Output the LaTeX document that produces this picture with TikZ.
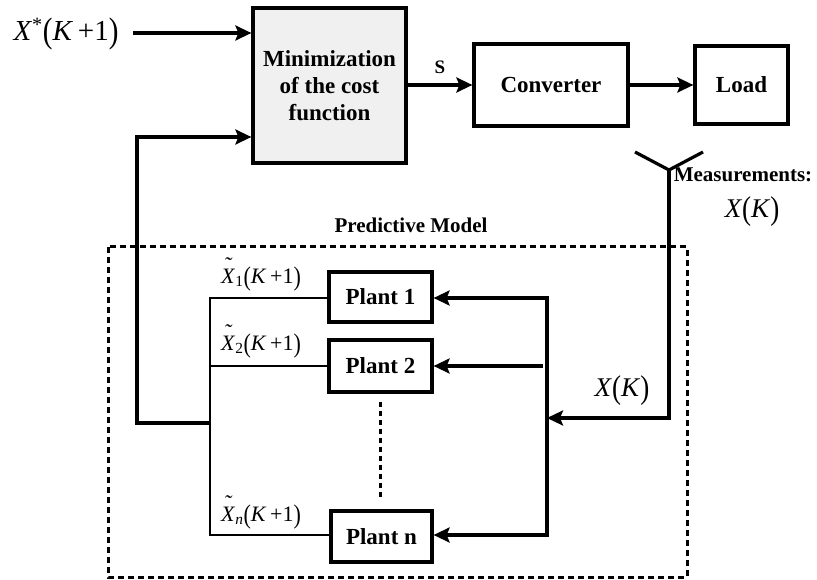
\documentclass[tikz,border=0pt]{standalone}
\usepackage{fontspec}
\setmainfont{Liberation Serif}
\usetikzlibrary{arrows.meta}
\newcommand\bigpar[1]{\raisebox{-0.08em}{\scalebox{1}[1.22]{#1}}}
\newcommand\tildeX{\ooalign{\textit{X}\cr\hidewidth\raisebox{0.5em}{\textit{\char"02DC}}\hidewidth\cr}}
\begin{document}
\begin{tikzpicture}[x=1pt,y=-1pt,
  box/.style={draw,line width=3.2pt,inner sep=0pt,font=\bfseries\fontsize{23}{27}\selectfont,align=center},
  arr/.style={line width=3.2pt,-{Stealth[length=16pt,width=15pt,inset=3pt]}},
  ln/.style={line width=3.2pt},
  thinln/.style={line width=2.8pt},
  lbl/.style={inner sep=0pt,font=\fontsize{21}{25}\selectfont\bfseries},
  mth/.style={inner sep=0pt,font=\fontsize{27}{31}\selectfont},
  smth/.style={inner sep=0pt,font=\fontsize{22}{26}\selectfont},
  dashedbox/.style={line width=3pt,dash pattern=on 6pt off 4pt}]
\useasboundingbox (0,0) rectangle (817,580);

% top row
\node[box,fill=gray!12,minimum width=153pt,minimum height=155pt] (min) at (329.5,85.5) {Minimization\\of the cost\\function};
\node[box,minimum width=154pt,minimum height=82pt] (conv) at (551,85) {Converter};
\node[box,minimum width=93pt,minimum height=78pt] (load) at (741.5,85) {Load};

\node[mth,font=\fontsize{29}{33}\selectfont] (xs) at (66,34) {\textit{X}\textsuperscript{*}\bigpar{(}\textit{K}\,+1\bigpar{)}};
\coordinate (xsin) at (133,33);
\draw[arr] (xsin) -- (xsin -| min.west);

\draw[arr] (min.east |- conv.west) -- node[lbl,above=10pt,font=\fontsize{19}{22}\selectfont\bfseries] (s) {S} (conv.west);
\draw[arr] (conv.east) -- (load.west);

% antenna and measurement
\coordinate (ant) at (669,170);
\coordinate (antL) at (635,152);
\coordinate (antR) at (703,152);
\draw[ln] (antL) -- (ant) -- (antR);
\node[lbl] (meas) at (743,175) {Measurements:};
\node[mth] (xk1) at (752,212) {\textit{X}\bigpar{(}\textit{K}\bigpar{)}};

% predictive model box
\draw[dashedbox] (108,247) rectangle (687,577);
\node[lbl] (pm) at (411,225) {Predictive Model};

% plants
\node[box,minimum width=103pt,minimum height=50pt] (p1) at (380.5,297) {Plant 1};
\node[box,minimum width=103pt,minimum height=52pt] (p2) at (380.5,366) {Plant 2};
\node[box,minimum width=101pt,minimum height=51pt] (pn) at (381.5,536.5) {Plant n};
\draw[line width=3pt,dash pattern=on 5pt off 4pt] (p2.south) ++(0,8) coordinate (dtop) -- (dtop |- 0,498) coordinate (dbot);

% left bus
\coordinate (lb1) at (210,298);
\coordinate (lbn) at (210,535);
\coordinate (lb2) at (210,366);
\coordinate (lbf) at (210,423);
\draw[thinln] (p1.west |- lb1) -- (lb1) -- (lbn) -- (pn.west |- lbn);
\draw[thinln] (p2.west |- lb2) -- (lb2);
\coordinate (fb1) at (137,423);
\coordinate (fb2) at (137,137);
\draw[arr] (lbf) -- (fb1) -- (fb2) -- (fb2 -| min.west);

% labels of predictions
\node[smth] (x1) at (261,279) {\tildeX\textsubscript{1}\bigpar{(}\textit{K}\,+1\bigpar{)}};
\node[smth] (x2) at (261,346) {\tildeX\textsubscript{2}\bigpar{(}\textit{K}\,+1\bigpar{)}};
\node[smth] (xn) at (261,517) {\tildeX\textsubscript{\textit{n}}\bigpar{(}\textit{K}\,+1\bigpar{)}};

% right bus
\coordinate (rb1) at (547,298);
\coordinate (rbn) at (547,535);
\coordinate (rb2) at (543,366);
\coordinate (rbx) at (547,418);
\draw[arr] (rbn) -- (rb1) -- (p1.east |- rb1);
\draw[arr,line cap=rect] (rbn) -- (pn.east |- rbn);
\draw[arr] (rb2) -- (p2.east |- rb2);

% measurement line
\coordinate (mx) at (669,418);
\draw[arr] (ant) -- (mx) -- (rbx);
\node[mth] (xk2) at (622,391) {\textit{X}\bigpar{(}\textit{K}\bigpar{)}};
\end{tikzpicture}
\end{document}
